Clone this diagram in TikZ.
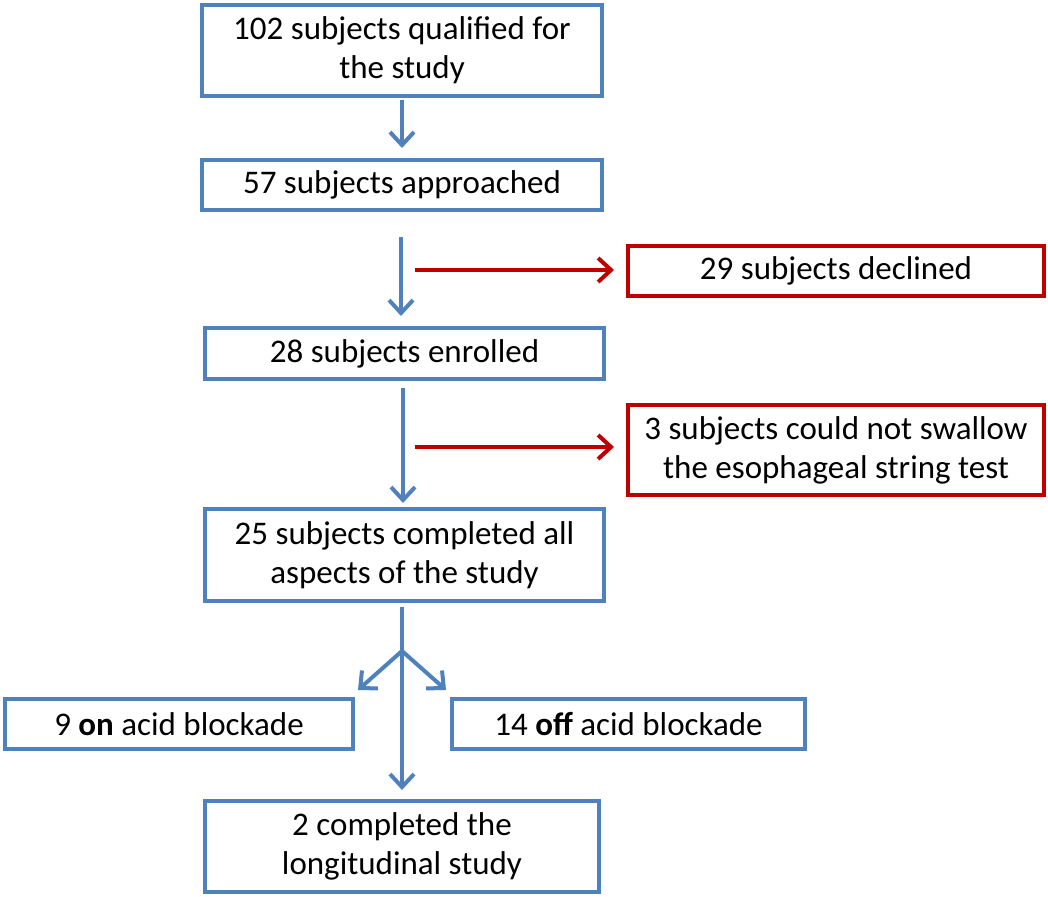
\documentclass[tikz,border=0pt]{standalone}
\usepackage{fontspec}
\setmainfont{Carlito}
\usetikzlibrary{arrows.meta}
\definecolor{bblue}{RGB}{79,129,189}
\definecolor{rred}{RGB}{192,0,0}
\begin{document}
\begin{tikzpicture}[x=1pt,y=-1pt,
  box/.style={draw=bblue,line width=4pt,align=center,inner sep=0pt,font=\fontsize{33}{39}\selectfont},
  rbox/.style={box,draw=rred},
  barr/.style={draw=bblue,line width=4pt,-{Straight Barb[length=13pt,width=24pt,line width=4pt]}},
  rarr/.style={barr,draw=rred}]
\useasboundingbox (0,0) rectangle (1048,896);
\node[box,minimum width=400pt,minimum height=91pt] (b1) at (402,50.5) {102 subjects qualified for\\the study};
\node[box,minimum width=400pt,minimum height=50pt] (b2) at (402,185) {57 subjects approached};
\node[rbox,minimum width=416pt,minimum height=50pt] (b3) at (836,271) {29 subjects declined};
\node[box,minimum width=399pt,minimum height=51pt] (b4) at (404.5,353.5) {28 subjects enrolled};
\node[rbox,minimum width=416pt,minimum height=90pt] (b5) at (836,450) {3 subjects could not swallow\\the esophageal string test};
\node[box,minimum width=399pt,minimum height=92pt] (b6) at (404.5,555) {25 subjects completed all\\aspects of the study};
\node[box,minimum width=348pt,minimum height=50pt] (b7) at (179,724) {9 \textbf{on} acid blockade};
\node[box,minimum width=353pt,minimum height=50pt] (b8) at (628.5,724) {14 \textbf{off} acid blockade};
\node[box,minimum width=394pt,minimum height=91pt] (b9) at (402,846.5) {2 completed the\\longitudinal study};
\coordinate (r1) at (415,270);
\coordinate (r2) at (415,447);
\coordinate (fork) at (402,651);
\draw[barr,shorten <=2pt,shorten >=10pt] (b1.south) -- (b2.north);
\draw[barr,shorten <=25pt,shorten >=10pt] (401,0 |- b2.south) -- (401,0 |- b4.north);
\draw[rarr,shorten >=12pt] (r1) -- (b3.west |- r1);
\draw[barr,shorten <=7pt,shorten >=4pt] (403,0 |- b4.south) -- (403,0 |- b6.north);
\draw[rarr,shorten >=12pt] (r2) -- (b5.west |- r2);
\draw[barr,shorten <=4pt,shorten >=9pt] (402,0 |- b6.south) -- (b9.north);
\draw[barr] (fork) -- (358,690);
\draw[barr] (fork) -- (446,690);
\end{tikzpicture}
\end{document}
